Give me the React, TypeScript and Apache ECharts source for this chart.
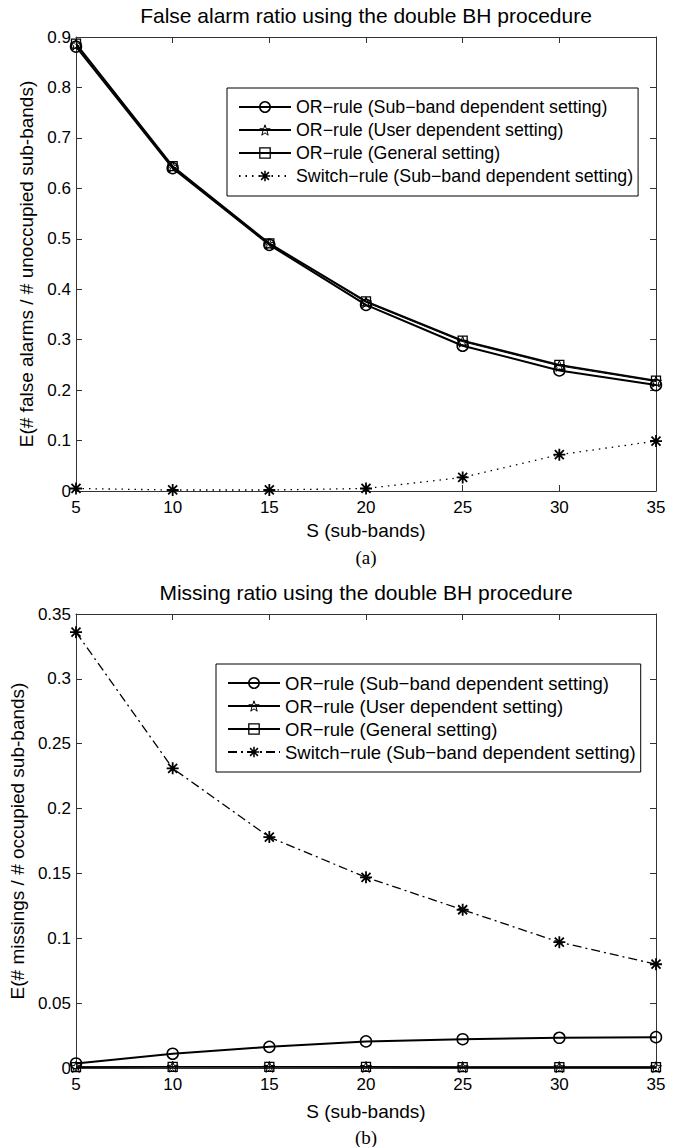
import React, { useEffect, useRef } from "react";
import * as echarts from "echarts";

// ---------- data ----------
const S_VALUES = [5, 10, 15, 20, 25, 30, 35];
const X_TICKS = { min: 5, max: 35, interval: 5 };

const SERIES_NAMES = [
  "OR−rule (Sub−band dependent setting)",
  "OR−rule (User dependent setting)",
  "OR−rule (General setting)",
  "Switch−rule (Sub−band dependent setting)",
];

// (a) false alarm ratio
const faSubband = [0.881, 0.64, 0.488, 0.369, 0.288, 0.239, 0.21];
const faUser = [0.885, 0.643, 0.49, 0.374, 0.296, 0.248, 0.217];
const faGeneral = [0.887, 0.644, 0.491, 0.376, 0.298, 0.25, 0.219];
const faSwitch = [0.005, 0.002, 0.002, 0.005, 0.027, 0.072, 0.099];

// (b) missing ratio
const msSubband = [0.0035, 0.011, 0.0163, 0.0205, 0.0222, 0.0233, 0.0238];
const msUser = [0.0008, 0.001, 0.0009, 0.0008, 0.0007, 0.0007, 0.0007];
const msGeneral = [0.0007, 0.0009, 0.0008, 0.0008, 0.0007, 0.0006, 0.0006];
const msSwitch = [0.336, 0.231, 0.178, 0.147, 0.122, 0.097, 0.08];

const FONT = '"Liberation Sans", Arial, Helvetica, sans-serif';
const SERIF = '"Liberation Serif", "Times New Roman", serif';

const STAR =
  "path://M50 0L61.76 33.82L97.55 34.55L69.02 56.18L79.39 90.45L50 70L20.61 90.45L30.98 56.18L2.45 34.55L38.24 33.82Z";
const ASTERISK =
  "path://M10 44H90V56H10Z M44 10H56V90H44Z M15.8 24.2L24.2 15.8L84.2 75.8L75.8 84.2Z M75.8 15.8L84.2 24.2L24.2 84.2L15.8 75.8Z";

const HOLLOW = "rgba(255,255,255,0)";

type ChartCfg = {
  title: string;
  yName: string;
  yMax: number;
  yInterval: number;
  values: number[][];
  switchDash: number[];
  legendLeft: number;
  legendTop: number;
  legendFont: number;
  caption: string;
  captionY: number;
  xNameGap: number;
};

const FRAME = "#333";

function buildOption(c: ChartCfg) {
  const pts = (ys: number[]) => S_VALUES.map((x, i) => [x, ys[i]]);
  const lineStyle = { color: FRAME, width: 1 };
  const tickLabel = { fontSize: 17, color: "#000", fontFamily: FONT };
  const mirror = {
    axisLine: { show: true, onZero: false, lineStyle },
    axisTick: { show: true, inside: true, length: 6, lineStyle },
    axisLabel: { show: false },
    splitLine: { show: false },
  };
  const [sub, user, gen, sw] = c.values;
  const itemStyles = [
    { color: HOLLOW, borderColor: "#000", borderWidth: 1.5 },
    { color: HOLLOW, borderColor: "#000", borderWidth: 1 },
    { color: HOLLOW, borderColor: "#000", borderWidth: 1.3 },
    { color: "#000", borderColor: "#000", borderWidth: 0 },
  ];
  return {
    animation: false,
    backgroundColor: "#fff",
    grid: { left: 76, top: 37, width: 580, height: 454 },
    xAxis: [
      {
        type: "value",
        position: "bottom",
        ...X_TICKS,
        axisLine: { show: true, onZero: false, lineStyle },
        axisTick: { show: true, inside: true, length: 6, lineStyle },
        axisLabel: { ...tickLabel, margin: 8 },
        splitLine: { show: false },
        name: "S (sub-bands)",
        nameLocation: "middle",
        nameGap: c.xNameGap,
        nameTextStyle: { fontSize: 19, color: "#000", fontFamily: FONT },
      },
      { type: "value", position: "top", ...X_TICKS, ...mirror },
    ],
    yAxis: [
      {
        type: "value",
        position: "left",
        min: 0,
        max: c.yMax,
        interval: c.yInterval,
        axisLine: { show: true, onZero: false, lineStyle },
        axisTick: { show: true, inside: true, length: 6, lineStyle },
        axisLabel: { ...tickLabel, margin: 5 },
        splitLine: { show: false },
        name: c.yName,
        nameLocation: "middle",
        nameGap: 31,
        nameTextStyle: { fontSize: 19, color: "#000", fontFamily: FONT },
      },
      {
        type: "value",
        position: "right",
        min: 0,
        max: c.yMax,
        interval: c.yInterval,
        ...mirror,
      },
    ],
    legend: {
      orient: "vertical",
      left: c.legendLeft,
      top: c.legendTop,
      data: SERIES_NAMES.map((name, i) => ({ name, itemStyle: itemStyles[i] })),
      selectedMode: false,
      itemWidth: 52,
      itemHeight: 13,
      itemGap: 3,
      padding: [9, 5, 10, 11],
      borderColor: "#000",
      borderWidth: 1,
      backgroundColor: "#fff",
      textStyle: {
        fontSize: c.legendFont,
        lineHeight: 20,
        color: "#000",
        fontFamily: FONT,
      },
    },
    graphic: [
      {
        type: "text",
        x: 366,
        y: 15,
        style: {
          text: c.title,
          fontSize: 21,
          fontFamily: FONT,
          fill: "#000",
          align: "center",
          verticalAlign: "middle",
          textAlign: "center",
          textVerticalAlign: "middle",
        },
      },
      {
        type: "text",
        x: 366,
        y: c.captionY,
        style: {
          text: c.caption,
          fontSize: 19,
          fontFamily: SERIF,
          fill: "#000",
          align: "center",
          verticalAlign: "middle",
          textAlign: "center",
          textVerticalAlign: "middle",
        },
      },
    ],
    series: [
      {
        type: "line",
        name: SERIES_NAMES[0],
        data: pts(sub),
        symbol: "circle",
        symbolSize: 11,
        clip: false,
        lineStyle: { color: "#000", width: 2 },
        itemStyle: itemStyles[0],
        z: 3,
      },
      {
        type: "line",
        name: SERIES_NAMES[1],
        data: pts(user),
        symbol: STAR,
        symbolSize: 11,
        clip: false,
        lineStyle: { color: "#000", width: 1 },
        itemStyle: itemStyles[1],
        z: 4,
      },
      {
        type: "line",
        name: SERIES_NAMES[2],
        data: pts(gen),
        symbol: "rect",
        symbolSize: 9,
        clip: false,
        lineStyle: { color: "#000", width: 1.8 },
        itemStyle: itemStyles[2],
        z: 5,
      },
      {
        type: "line",
        name: SERIES_NAMES[3],
        data: pts(sw),
        symbol: ASTERISK,
        symbolSize: 12,
        clip: false,
        lineStyle: { color: "#000", width: 1.3, type: c.switchDash },
        itemStyle: itemStyles[3],
        z: 6,
      },
    ],
  };
}

const TOP_CFG: ChartCfg = {
  title: "False alarm ratio using the double BH procedure",
  yName: "E(# false alarms / # unoccupied sub-bands)",
  yMax: 0.9,
  yInterval: 0.1,
  values: [faSubband, faUser, faGeneral, faSwitch],
  switchDash: [1.5, 5],
  legendLeft: 227,
  legendTop: 88,
  legendFont: 17.8,
  caption: "(a)",
  captionY: 557,
  xNameGap: 30,
};

const BOTTOM_CFG: ChartCfg = {
  title: "Missing ratio using the double BH procedure",
  yName: "E(# missings / # occupied sub-bands)",
  yMax: 0.35,
  yInterval: 0.05,
  values: [msSubband, msUser, msGeneral, msSwitch],
  switchDash: [9, 4, 2, 4],
  legendLeft: 216,
  legendTop: 87,
  legendFont: 18.5,
  caption: "(b)",
  captionY: 560,
  xNameGap: 34,
};

function Chart({ cfg, top, height }: { cfg: ChartCfg; top: number; height: number }) {
  const ref = useRef<HTMLDivElement>(null);
  useEffect(() => {
    if (!ref.current) return;
    const chart = echarts.init(ref.current, undefined, { renderer: "svg" });
    chart.setOption(buildOption(cfg) as any);
    return () => chart.dispose();
  }, [cfg]);
  return (
    <div
      ref={ref}
      style={{ position: "absolute", left: 0, top, width: 681, height }}
    />
  );
}

export default function App() {
  return (
    <div
      style={{
        position: "absolute",
        left: 0,
        top: 0,
        width: 681,
        height: 1147,
        background: "#fff",
      }}
    >
      <Chart cfg={TOP_CFG} top={0} height={577} />
      <Chart cfg={BOTTOM_CFG} top={577} height={570} />
    </div>
  );
}
